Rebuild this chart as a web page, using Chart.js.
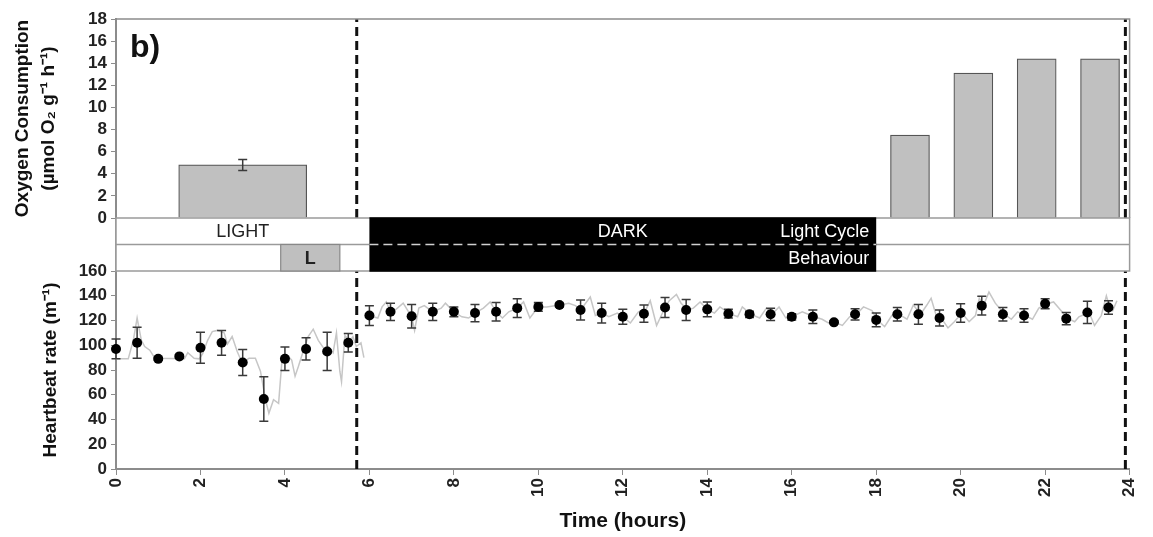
<!DOCTYPE html>
<html lang="en">
<head>
<meta charset="UTF-8">
<title>Oxygen consumption and heartbeat rate over 24 h</title>
<script src="https://cdn.jsdelivr.net/npm/chart.js"></script>
<style>
  html, body { margin: 0; padding: 0; background: #fff; }
  #wrap { width: 1153px; height: 537px; }
</style>
</head>
<body>
<div id="wrap"><canvas id="chart" width="1153" height="537"></canvas></div>
<script>
  // oxygen consumption bars (hour at bar centre)
  const o2LightHours = [3];
  const o2LightValues = [4.8];
  const o2LightErrors = [0.5];
  const o2DarkHours = [18.8, 20.3, 21.8, 23.3];
  const o2DarkValues = [7.5, 13.1, 14.4, 14.4];

  // heartbeat means every half hour
  const hrHours = [0, 0.5, 1, 1.5, 2, 2.5, 3, 3.5, 4, 4.5, 5, 5.5,
    6, 6.5, 7, 7.5, 8, 8.5, 9, 9.5, 10, 10.5, 11, 11.5, 12, 12.5, 13, 13.5, 14, 14.5,
    15, 15.5, 16, 16.5, 17, 17.5, 18, 18.5, 19, 19.5, 20, 20.5, 21, 21.5, 22, 22.5, 23, 23.5];
  const hrMeans = [97, 102, 89, 91, 98, 102, 86, 56.5, 89, 97, 95, 102,
    124, 127, 123.5, 127, 127, 126, 127, 130, 131, 132.5, 128.5, 126, 123, 125.5, 130.5, 128.5, 129, 125.5,
    125, 125, 123, 123, 118.5, 125, 120.5, 125, 125, 122, 126, 132, 125, 124, 133.5, 121.5, 126.5, 130.5];
  const hrErrors = [8, 12.5, 1, 1, 12.5, 10, 10.5, 18, 9.5, 9, 15.5, 7.5,
    8, 7, 9.5, 7, 4, 7, 7.5, 7.5, 3.5, 1.5, 8, 8, 6, 7, 8, 8.5, 6, 3.5,
    2.5, 5, 2.5, 5.5, 1, 4.5, 5.5, 5.5, 8, 6.5, 7.5, 7.5, 5.5, 5.5, 4, 5, 9, 5.5];

  // continuous grey recording
  const traceHours = [0, 0.29, 0.41, 0.5, 0.6, 0.68, 0.8, 0.92, 1.62, 1.7, 1.85, 1.97, 2.05, 2.17, 2.28, 2.4,
    2.56, 2.64, 2.75, 2.87, 2.99, 3.15, 3.3, 3.42, 3.54, 3.62, 3.73, 3.85, 3.93, 4.05, 4.16, 4.24,
    4.32, 4.44, 4.55, 4.67, 4.79, 4.95, 5.02, 5.14, 5.22, 5.3, 5.34, 5.42, 5.53, 5.61, 5.69, 5.8, 5.87, 5.93,
    5.98, 6.2, 6.3, 6.4, 6.5, 6.63, 6.8, 7.0, 7.07, 7.17, 7.3, 7.5, 7.7, 7.8, 8.0, 8.19, 8.35, 8.5,
    8.7, 8.86, 9.0, 9.15, 9.3, 9.5, 9.65, 9.8, 10.0, 10.2, 10.5, 10.72, 10.88, 11.0, 11.23, 11.35,
    11.5, 11.67, 11.87, 12.0, 12.18, 12.37, 12.5, 12.65, 12.8, 13.0, 13.1, 13.27, 13.38, 13.54, 13.67,
    13.83, 14.0, 14.17, 14.3, 14.53, 14.72, 14.83, 15.04, 15.24, 15.4, 15.53, 15.7, 15.86, 16.0, 16.25,
    16.53, 16.72, 16.87, 17.03, 17.2, 17.37, 17.53, 17.7, 17.9, 18.03, 18.2, 18.37, 18.54, 18.73, 18.88,
    19.05, 19.2, 19.3, 19.42, 19.54, 19.7, 19.85, 20.03, 20.2, 20.35, 20.44, 20.54, 20.67, 20.82, 21.04,
    21.2, 21.35, 21.53, 21.7, 21.85, 22.04, 22.2, 22.4, 22.55, 22.7, 22.8, 23.04, 23.17, 23.33, 23.45,
    23.53, 23.6, 23.7];
  const traceRates = [89, 89, 104, 122, 104, 99, 96, 89.5, 89, 94, 89.5, 89, 93, 104, 111, 112,
    110, 101, 107, 95, 85.5, 89.5, 89.5, 79, 56, 45, 56, 53, 88, 92, 88, 75,
    83, 96, 107, 113, 104, 96, 99, 94, 110, 79, 70.5, 108, 103, 107, 99, 102, 90, null,
    124, 122, 131, 135, 127, 129, 134, 123, 112, 130, 132, 127, 130, 134, 127, 123, 122, 126,
    130, 135, 127, 122, 127, 130, 135, 122, 131, 131, 132.5, 134, 132, 128.5, 139, 124,
    126, 123, 126, 123, 118, 127, 125.5, 136, 116, 130.5, 136, 141, 134, 128.5, 130,
    135, 129, 126, 131, 125.5, 123, 131, 125, 122, 130, 125, 131, 122, 123, 127,
    123, 121, 118, 118.3, 116, 123, 125, 131, 128, 120.4, 115, 124, 125, 121, 132.5,
    125, 132.5, 138, 124, 122, 114, 119, 126, 119, 124, 138, 132, 143, 134, 125,
    121, 127, 124, 121, 130, 133.5, 135, 127, 121.5, 119, 123, 126.5, 116, 124, 140,
    130.5, 128, 136];

  // light cycle and behaviour bands
  const cycleStarts = [0, 6, 18];
  const cycleEnds = [6, 18, 24];
  const cycleStates = ['light', 'dark', 'light'];
  const cycleLabels = ['LIGHT', 'DARK', ''];
  const behaviourStarts = [0, 3.9, 5.3, 6, 18];
  const behaviourEnds = [3.9, 5.3, 6, 18, 24];
  const behaviourStates = ['light', 'active', 'light', 'dark', 'light'];
  const behaviourLabels = ['', 'L', '', '', ''];
  const rowNames = ['Light Cycle', 'Behaviour'];

  // dashed phase markers
  const phaseLines = [5.7, 23.9];

  const FONT = "'Liberation Sans', Arial, sans-serif";
  const AXIS_GREY = '#8c8c8c';

  // lower "order" is painted later (on top)
  const datasets = [
    {
      type: 'line', label: 'trace', yAxisID: 'yHR', order: 10,
      data: traceHours.map((h, i) => ({x: h, y: traceRates[i]})),
      borderColor: '#c6c6c6', borderWidth: 1.5, pointRadius: 0, spanGaps: false, tension: 0
    },
    {
      type: 'line', label: 'Heartbeat', yAxisID: 'yHR', order: 2, showLine: false, clip: false,
      data: hrHours.map((h, i) => ({x: h, y: hrMeans[i]})),
      errorBars: hrErrors,
      pointRadius: 5, pointBackgroundColor: '#000', pointBorderWidth: 0
    },
    {
      type: 'bar', label: 'O2 light', yAxisID: 'yO2', order: 5, grouped: false,
      data: o2LightHours.map((h, i) => ({x: h, y: o2LightValues[i]})),
      errorBars: o2LightErrors,
      backgroundColor: '#c0c0c0', borderColor: '#555', borderWidth: 1.2, barThickness: 128
    },
    {
      type: 'bar', label: 'O2 dark', yAxisID: 'yO2', order: 5, grouped: false,
      data: o2DarkHours.map((h, i) => ({x: h, y: o2DarkValues[i]})),
      backgroundColor: '#c0c0c0', borderColor: '#555', borderWidth: 1.2, barThickness: 39
    }
  ];
  phaseLines.forEach(h => {
    [['yO2', 18], ['yHR', 160]].forEach(([axis, top]) => {
      datasets.push({
        type: 'line', label: 'phase', yAxisID: axis, order: 0,
        data: [{x: h, y: 0}, {x: h, y: top}],
        borderColor: '#111', borderWidth: 3, borderDash: [9, 5], pointRadius: 0
      });
    });
  });

  function drawErrors(chart, args) {
    const ds = chart.data.datasets[args.index];
    if (!ds.errorBars) return;
    const ctx = chart.ctx;
    const yScale = chart.scales[args.meta.yAxisID];
    ctx.save();
    ctx.strokeStyle = '#3a3a3a';
    ctx.lineWidth = 1.5;
    args.meta.data.forEach((el, i) => {
      const e = ds.errorBars[i];
      if (!e) return;
      const v = ds.data[i].y;
      const y0 = yScale.getPixelForValue(v + e);
      const y1 = yScale.getPixelForValue(v - e);
      ctx.beginPath();
      ctx.moveTo(el.x, y0); ctx.lineTo(el.x, y1);
      ctx.moveTo(el.x - 4.5, y0); ctx.lineTo(el.x + 4.5, y0);
      ctx.moveTo(el.x - 4.5, y1); ctx.lineTo(el.x + 4.5, y1);
      ctx.stroke();
    });
    ctx.restore();
  }

  const errorBarPlugin = {
    id: 'errorBars',
    beforeDatasetDraw(chart, args) {
      if (chart.data.datasets[args.index].type !== 'bar') drawErrors(chart, args);
    },
    afterDatasetDraw(chart, args) {
      if (chart.data.datasets[args.index].type === 'bar') drawErrors(chart, args);
    }
  };

  const bandPlugin = {
    id: 'band',
    afterDatasetsDraw(chart) {
      const {ctx, chartArea} = chart;
      const x = chart.scales.x, yb = chart.scales.yBand, yo = chart.scales.yO2;
      const left = chartArea.left, right = chartArea.right;
      const yTop = yb.getPixelForValue(2), yMid = yb.getPixelForValue(1), yBot = yb.getPixelForValue(0);
      ctx.save();

      // frame of oxygen panel
      ctx.strokeStyle = AXIS_GREY;
      ctx.lineWidth = 1.5;
      ctx.beginPath();
      ctx.moveTo(left, yo.top); ctx.lineTo(right, yo.top); ctx.lineTo(right, yo.bottom);
      ctx.stroke();

      // band background and outline
      ctx.fillStyle = '#fff';
      ctx.fillRect(left, yTop, right - left, yBot - yTop);
      ctx.strokeStyle = '#9a9a9a';
      ctx.strokeRect(left, yTop, right - left, yBot - yTop);
      ctx.beginPath(); ctx.moveTo(left, yMid); ctx.lineTo(right, yMid); ctx.stroke();

      const rows = [
        {starts: cycleStarts, ends: cycleEnds, states: cycleStates, labels: cycleLabels, top: yTop, bottom: yMid},
        {starts: behaviourStarts, ends: behaviourEnds, states: behaviourStates, labels: behaviourLabels, top: yMid, bottom: yBot}
      ];
      rows.forEach(row => {
        row.starts.forEach((s, i) => {
          const x0 = x.getPixelForValue(s), x1 = x.getPixelForValue(row.ends[i]);
          if (row.states[i] === 'dark') {
            ctx.fillStyle = '#000';
            ctx.fillRect(x0, row.top - 0.75, x1 - x0, row.bottom - row.top + 1.5);
          } else if (row.states[i] === 'active') {
            ctx.fillStyle = '#bfbfbf';
            ctx.fillRect(x0, row.top, x1 - x0, row.bottom - row.top);
            ctx.strokeStyle = '#888';
            ctx.lineWidth = 1.2;
            ctx.strokeRect(x0, row.top, x1 - x0, row.bottom - row.top);
          }
        });
      });

      // dashed divider across the dark block
      const dk = cycleStates.indexOf('dark');
      ctx.strokeStyle = '#d0d0d0';
      ctx.lineWidth = 1.5;
      ctx.setLineDash([9, 5]);
      ctx.beginPath();
      ctx.moveTo(x.getPixelForValue(cycleStarts[dk]), yMid);
      ctx.lineTo(x.getPixelForValue(cycleEnds[dk]), yMid);
      ctx.stroke();
      ctx.setLineDash([]);

      // labels
      ctx.textBaseline = 'middle';
      rows.forEach((row, r) => {
        const cy = (row.top + row.bottom) / 2 + 1;
        row.labels.forEach((lab, i) => {
          if (!lab) return;
          const cx = (x.getPixelForValue(row.starts[i]) + x.getPixelForValue(row.ends[i])) / 2;
          const st = row.states[i];
          ctx.fillStyle = st === 'dark' ? '#fff' : '#222';
          ctx.font = (st === 'active' ? 'bold ' : '') + '18px ' + FONT;
          ctx.textAlign = 'center';
          ctx.fillText(lab, cx, cy);
        });
        const d = row.states.indexOf('dark');
        ctx.fillStyle = '#fff';
        ctx.font = '18px ' + FONT;
        ctx.textAlign = 'right';
        ctx.fillText(rowNames[r], x.getPixelForValue(row.ends[d]) - 7, cy);
      });

      // panel letter
      ctx.fillStyle = '#111';
      ctx.font = 'bold 32px ' + FONT;
      ctx.textAlign = 'left';
      ctx.textBaseline = 'alphabetic';
      ctx.fillText('b)', left + 14, yo.top + 38);
      ctx.restore();
    }
  };

  const tickFont = {family: FONT, size: 17, weight: 'bold'};
  const titleFont = {family: FONT, size: 19, weight: 'bold', lineHeight: 1.4};

  new Chart(document.getElementById('chart'), {
    type: 'line',
    data: {datasets: datasets},
    plugins: [errorBarPlugin, bandPlugin],
    options: {
      responsive: false,
      animation: false,
      layout: {padding: {left: 0, right: 14, top: 19, bottom: 0}},
      plugins: {legend: {display: false}, tooltip: {enabled: false}},
      scales: {
        x: {
          type: 'linear', min: 0, max: 24, offset: false,
          ticks: {stepSize: 2, autoSkip: false, maxRotation: 90, minRotation: 90, font: tickFont, color: '#222', padding: 3},
          grid: {offset: false, drawOnChartArea: false, tickLength: 6, color: AXIS_GREY},
          border: {color: AXIS_GREY, width: 2},
          title: {display: true, text: 'Time (hours)', font: {family: FONT, size: 21, weight: 'bold'}, color: '#111', padding: {top: 0, bottom: 3}},
          afterFit: s => { s.height = 68; }
        },
        yHR: {
          type: 'linear', position: 'left', stack: 'panels', stackWeight: 198, weight: 1,
          min: 0, max: 160,
          ticks: {stepSize: 20, autoSkip: false, font: tickFont, color: '#222', padding: 4},
          grid: {drawOnChartArea: false, tickLength: 5, color: AXIS_GREY},
          border: {color: AXIS_GREY, width: 2},
          title: {display: true, text: 'Heartbeat rate (m⁻¹)', font: titleFont, color: '#111', padding: {top: 37, bottom: 0}},
          afterFit: s => { s.width = 116; }
        },
        yBand: {
          type: 'linear', position: 'left', stack: 'panels', stackWeight: 53, weight: 2,
          min: 0, max: 2,
          ticks: {display: false},
          grid: {display: false},
          border: {color: '#9a9a9a', width: 1.5},
          afterFit: s => { s.width = 116; }
        },
        yO2: {
          type: 'linear', position: 'left', stack: 'panels', stackWeight: 199, weight: 3,
          min: 0, max: 18,
          ticks: {stepSize: 2, autoSkip: false, font: tickFont, color: '#222', padding: 4},
          grid: {drawOnChartArea: false, tickLength: 5, color: AXIS_GREY},
          border: {color: AXIS_GREY, width: 2},
          title: {display: true, text: ['Oxygen Consumption', '(µmol O₂ g⁻¹ h⁻¹)'], font: titleFont, color: '#111', padding: {top: 9, bottom: 0}},
          afterFit: s => { s.width = 116; }
        }
      }
    }
  });
</script>
</body>
</html>
